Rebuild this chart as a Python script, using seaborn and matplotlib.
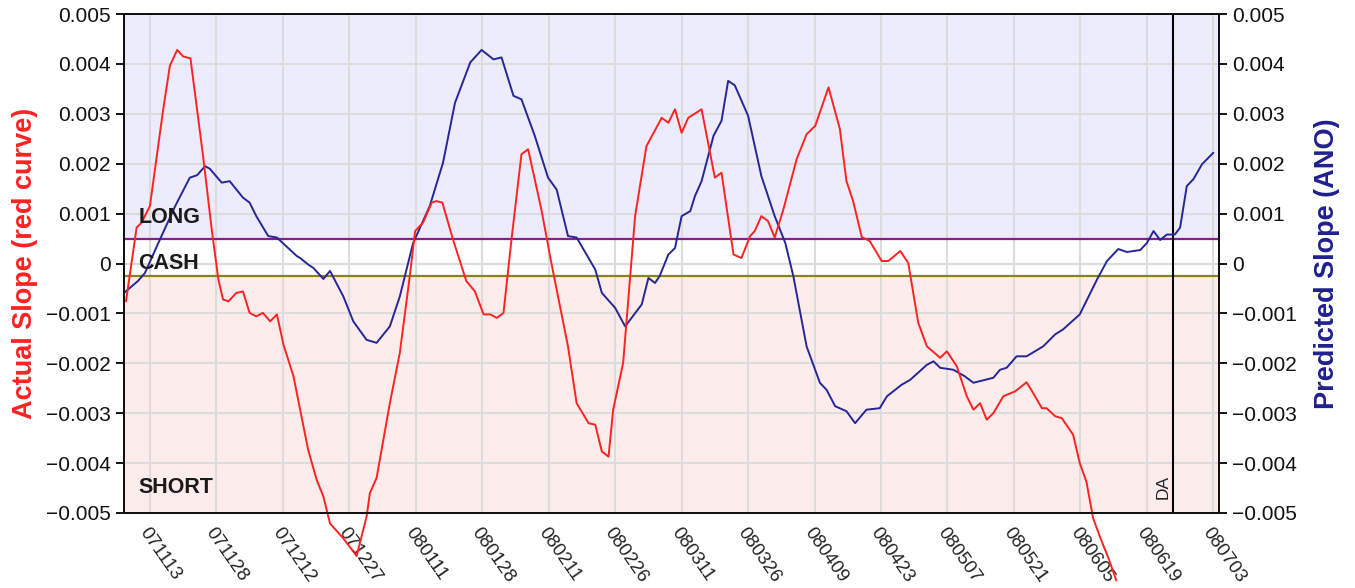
import numpy as np
import pandas as pd
import matplotlib
matplotlib.use("Agg")
import matplotlib.pyplot as plt
import seaborn as sns

# ---- data (x = trading-day index, 071113 = 0) ----
tick_labels = ["071113", "071128", "071212", "071227", "080111", "080128", "080211",
               "080226", "080311", "080326", "080409", "080423", "080507", "080521",
               "080605", "080619", "080703"]
tick_pos = [0, 10, 20, 30, 40, 50, 60, 70, 80, 90, 100, 110, 120, 130, 140, 150, 160]

red_x = [-3.6, -2.0, -1.25, 0.0, 2.0, 3.0, 4.1, 5.0, 6.1, 8.0, 9.3, 10.3, 11.0, 11.8, 13.0,
         14.0, 15.0, 16.0, 17.0, 18.1, 19.1, 20.1, 21.6, 23.8, 25.1, 26.1, 27.1, 29.1, 31.1,
         32.6, 33.1, 34.1, 36.1, 37.6, 39.1, 39.9, 41.1, 42.4, 43.1, 44.0, 45.6, 47.6, 48.9,
         50.2, 51.2, 52.2, 53.2, 54.4, 55.9, 56.9, 58.9, 60.4, 62.9, 64.2, 66.0, 67.0, 68.0,
         69.0, 69.7, 71.2, 73.0, 74.7, 77.0, 78.0, 79.0, 80.0, 81.0, 83.0, 85.0, 86.0, 87.8,
         89.0, 90.3, 91.0, 92.0, 93.0, 94.0, 95.3, 97.3, 98.8, 100.1, 102.1, 103.8, 104.8,
         105.8, 107.1, 108.3, 110.1, 111.1, 112.9, 114.1, 115.6, 116.9, 118.9, 119.9, 121.4,
         122.9, 123.9, 124.9, 125.9, 126.9, 128.4, 130.2, 131.9, 132.9, 134.2, 134.9, 136.2,
         137.2, 138.9, 139.9, 140.9, 141.9, 143.0, 144.2, 145.4]
red_y = [-0.00076, 0.00072, 0.00082, 0.00115, 0.00309, 0.00396, 0.00428, 0.00415, 0.00411,
         0.00215, 0.00068, -0.00032, -0.00072, -0.00076, -0.00059, -0.00056, -0.00099,
         -0.00106, -0.00099, -0.00116, -0.00102, -0.00163, -0.00226, -0.00373, -0.00434,
         -0.00467, -0.00521, -0.00551, -0.00586, -0.00507, -0.00460, -0.00430, -0.00280,
         -0.00179, -0.00025, 0.00065, 0.00082, 0.00122, 0.00125, 0.00122, 0.00048, -0.00035,
         -0.00056, -0.00102, -0.00102, -0.00109, -0.00099, 0.00048, 0.00219, 0.00229,
         0.00108, 0.00001, -0.00166, -0.00280, -0.00320, -0.00323, -0.00377, -0.00387,
         -0.00293, -0.00199, 0.00095, 0.00235, 0.00292, 0.00282, 0.00309, 0.00262, 0.00292,
         0.00309, 0.00172, 0.00182, 0.00018, 0.00011, 0.00055, 0.00065, 0.00095, 0.00085,
         0.00052, 0.00108, 0.00209, 0.00259, 0.00276, 0.00353, 0.00270, 0.00165, 0.00125,
         0.00053, 0.00045, 0.00005, 0.00005, 0.00025, 0.00001, -0.00119, -0.00166, -0.00189,
         -0.00176, -0.00206, -0.00266, -0.00293, -0.00280, -0.00313, -0.00300, -0.00266,
         -0.00256, -0.00238, -0.00260, -0.00290, -0.00290, -0.00306, -0.00310, -0.00343,
         -0.00400, -0.00437, -0.00510, -0.00550, -0.00590, -0.00635]

blue_x = [-3.9, -1.8, -0.75, 1.5, 3.8, 6.0, 7.1, 8.3, 9.0, 10.8, 12.0, 14.0, 15.0, 16.0, 17.8,
          19.1, 22.1, 22.6, 23.8, 24.6, 26.1, 27.1, 29.1, 30.6, 32.6, 34.1, 36.1, 37.6, 39.6,
          42.1, 44.1, 45.9, 48.2, 49.9, 51.7, 52.9, 54.7, 55.9, 57.9, 59.9, 61.2, 62.9, 64.2,
          67.0, 68.0, 70.0, 71.5, 74.0, 75.0, 76.0, 76.7, 78.0, 79.0, 80.0, 81.3, 82.0, 83.0,
          84.8, 86.0, 87.0, 88.0, 90.0, 92.0, 94.0, 95.6, 96.8, 98.8, 100.8, 101.8, 103.1,
          104.8, 106.1, 107.8, 109.8, 110.9, 113.1, 114.4, 116.9, 117.9, 118.9, 120.9, 122.6,
          123.9, 126.9, 127.9, 128.9, 130.4, 131.9, 134.4, 136.2, 137.4, 139.9, 142.5, 144.0,
          145.7, 147.0, 149.0, 150.0, 151.0, 152.0, 153.0, 154.2, 155.0, 156.0, 157.0, 158.3,
          160.0]
blue_y = [-0.00059, -0.00035, -0.00019, 0.00048, 0.00115, 0.00172, 0.00177, 0.00195, 0.00190,
          0.00162, 0.00165, 0.00132, 0.00122, 0.00095, 0.00055, 0.00052, 0.00015, 0.00011,
          -0.00002, -0.00009, -0.00031, -0.00015, -0.00066, -0.00116, -0.00153, -0.00159,
          -0.00126, -0.00066, 0.00041, 0.00115, 0.00202, 0.00322, 0.00403, 0.00428, 0.00409,
          0.00413, 0.00336, 0.00329, 0.00256, 0.00172, 0.00148, 0.00055, 0.00052, -0.00012,
          -0.00059, -0.00089, -0.00126, -0.00082, -0.00029, -0.00039, -0.00025, 0.00018,
          0.00031, 0.00095, 0.00105, 0.00135, 0.00165, 0.00256, 0.00286, 0.00366, 0.00357,
          0.00296, 0.00175, 0.00095, 0.00041, -0.00025, -0.00166, -0.00239, -0.00253,
          -0.00286, -0.00296, -0.00320, -0.00293, -0.00290, -0.00266, -0.00243, -0.00233,
          -0.00203, -0.00196, -0.00209, -0.00213, -0.00226, -0.00239, -0.00229, -0.00213,
          -0.00209, -0.00186, -0.00186, -0.00166, -0.00142, -0.00132, -0.00102, -0.00032,
          0.00005, 0.00029, 0.00023, 0.00027, 0.00041, 0.00065, 0.00047, 0.00058, 0.00058,
          0.00072, 0.00155, 0.00169, 0.00199, 0.00222]

long_level = 0.0005
short_level = -0.00025
da_pos = 154
y_ticks = [-0.005, -0.004, -0.003, -0.002, -0.001, 0, 0.001, 0.002, 0.003, 0.004, 0.005]
y_tick_labels = ["\u22120.005", "\u22120.004", "\u22120.003", "\u22120.002", "\u22120.001", "0",
                 "0.001", "0.002", "0.003", "0.004", "0.005"]

# ---- plot ----
sns.set_style("white")
plt.rcParams["font.family"] = ["Liberation Sans", "DejaVu Sans"]

fig = plt.figure(figsize=(13.55, 5.88), dpi=100)
ax = fig.add_axes([124 / 1355, 1 - 513 / 588, (1219 - 124) / 1355, (513 - 14) / 588])
ax2 = ax.twinx()

xmin, xmax = -3.9, 160.85
ymin, ymax = -0.005, 0.005
ax.set_xlim(xmin, xmax)
ax.set_ylim(ymin, ymax)
ax2.set_ylim(ymin, ymax)

# background zones
ax.axhspan(long_level, ymax, color="#ECECFC", zorder=0, lw=0)
ax.axhspan(ymin, short_level, color="#FDECEC", zorder=0, lw=0)

# grid
for t in tick_pos:
    ax.axvline(t, color="#DCDCDC", lw=1.5, zorder=1)
for t in y_ticks:
    ax.axhline(t, color="#DCDCDC", lw=1.5, zorder=1)

ax.axhline(long_level, color="#8B1C8B", lw=1.6, zorder=2)
ax.axhline(short_level, color="#85851A", lw=1.6, zorder=2)
ax.axvline(da_pos, color="black", lw=1.5, zorder=2)

df_blue = pd.DataFrame({"x": blue_x, "y": blue_y})
df_red = pd.DataFrame({"x": red_x, "y": red_y})
sns.lineplot(data=df_blue, x="x", y="y", ax=ax, color="#262696", lw=1.4, zorder=3)
sns.lineplot(data=df_red, x="x", y="y", ax=ax, color="#FF2222", lw=1.4, zorder=4)
ax.lines[-1].set_clip_on(False)

# texts
for txt, yv in [("LONG", 0.00093), ("CASH", 0.0), ("SHORT", -0.00449)]:
    ax.text(-1.7, yv, txt, fontsize=15.5, fontweight="bold", color="#1A1A1A",
            ha="left", va="center", zorder=5)
ax.text(da_pos - 0.4, -0.00448, "DA", rotation=90, fontsize=12.5, color="#222222",
        ha="right", va="center", zorder=5)

# ticks
ax.set_xticks(tick_pos)
ax.set_xticklabels(tick_labels, rotation=-55, ha="left", va="top",
                   rotation_mode="anchor", fontsize=13.5, color="#222222")
ax.set_yticks(y_ticks)
ax.set_yticklabels(y_tick_labels, fontsize=15, color="#111111")
ax2.set_yticks(y_ticks)
ax2.set_yticklabels(y_tick_labels, fontsize=15, color="#111111")
for a in (ax, ax2):
    a.tick_params(axis="both", direction="out", length=6, width=1.3, color="black")
    for s in a.spines.values():
        s.set_color("#111111")
        s.set_linewidth(1.4)
ax.tick_params(axis="x", pad=2)

ax.set_xlabel("")
ax.set_ylabel("Actual Slope (red curve)", color="#FF2222", fontsize=19.5,
              fontweight="bold", labelpad=6)
ax2.set_ylabel("Predicted Slope (ANO)", color="#1F1F8F", fontsize=19.5,
               fontweight="bold", rotation=90, labelpad=12)
ax2.grid(False)
ax.grid(False)

fig.savefig("out.png", dpi=100)
